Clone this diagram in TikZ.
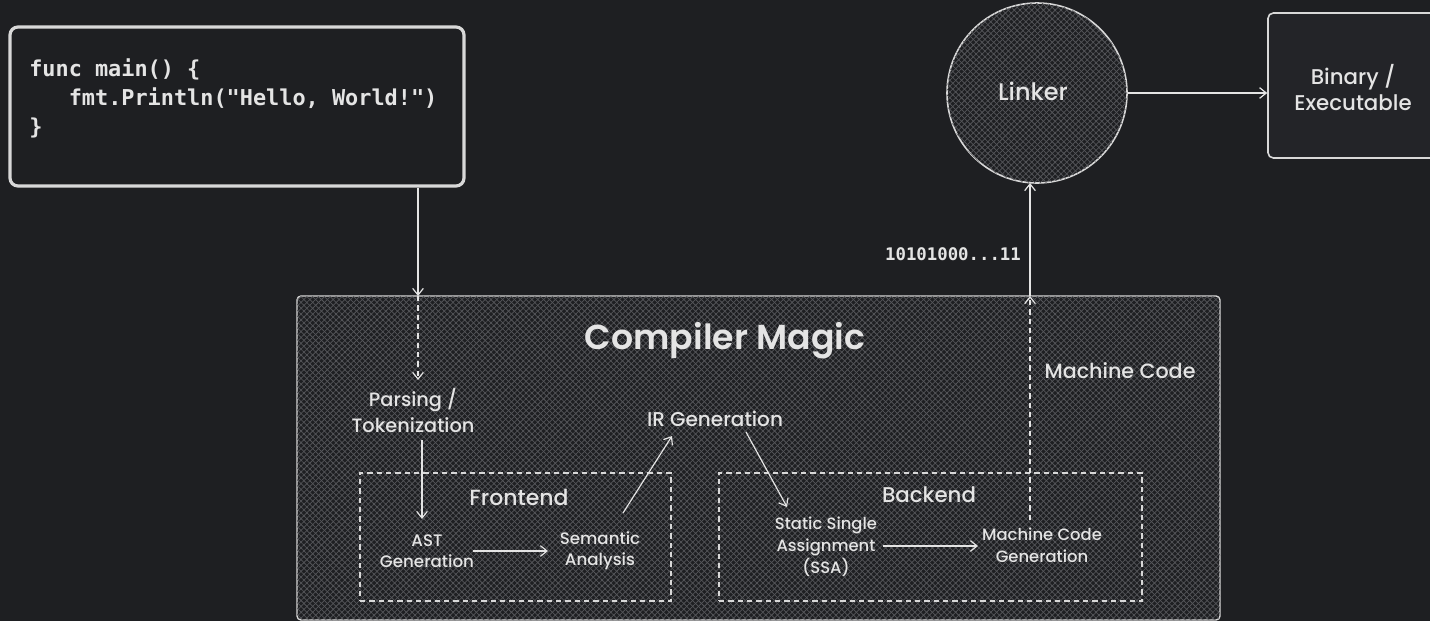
\documentclass[tikz,border=0pt]{standalone}
\usepackage{fontspec}
\setmainfont{Poppins}[UprightFont=* Medium, BoldFont=* SemiBold]
\newfontfamily\codefont{DejaVu Sans Mono}
\usetikzlibrary{arrows.meta,patterns.meta,fit}
\definecolor{bg}{HTML}{1E1F22}
\definecolor{ink}{HTML}{E4E4E4}
\definecolor{edge}{HTML}{D8D8D8}
\definecolor{hatch}{HTML}{55565A}
\definecolor{boxfill}{HTML}{232428}
\tikzset{
  arr/.style={draw=ink, line width=0.9pt, -{Straight Barb[length=5pt,width=8pt]}},
  dasharr/.style={arr, dash pattern=on 4pt off 3pt},
  lbl/.style={text=ink, align=center, inner sep=1pt, font=\fontsize{12}{15}\selectfont},
  hatched/.style={preaction={fill=bg},
    pattern={Lines[angle=45,distance=3.1pt,line width=0.55pt]}, pattern color=hatch,
    postaction={pattern={Lines[angle=-45,distance=3.1pt,line width=0.55pt]}, pattern color=hatch}},
  group/.style={draw=edge, line width=0.8pt, dash pattern=on 4pt off 3pt, inner sep=0pt},
}
\begin{document}
\begin{tikzpicture}[x=0.75pt,y=-0.75pt]
\useasboundingbox (0,0) rectangle (1430,621);
\clip (0,0) rectangle (1430,621);
\fill[bg] (0,0) rectangle (1430,621);

% source code box
\coordinate (c1) at (10,27);
\coordinate (c2) at (464,186);
\node[fit=(c1)(c2), draw=edge, line width=2.4pt, rounded corners=6pt, fill=bg, inner sep=0pt] (code) {};
\node[anchor=north west, text=ink, align=left, inner sep=0pt,
      font=\codefont\bfseries\fontsize{16.4}{22}\selectfont] (src) at (29,58)
  {func main() \{\\
   \ \ \ fmt.Println("Hello, World!")\\
   \}};

% compiler box
\coordinate (m1) at (297,296);
\coordinate (m2) at (1220,620);
\node[fit=(m1)(m2), draw=edge, line width=1pt, rounded corners=3pt, hatched, inner sep=0pt] (magic) {};
\node[text=ink, font=\bfseries\fontsize{26}{30}\selectfont, inner sep=0pt] (title) at (725,341) {Compiler Magic};
\node[text=ink, font=\fontsize{15.5}{18}\selectfont, inner sep=0pt] (mclabel) at (1120,371) {Machine Code};

% frontend / backend groups
\coordinate (f1) at (360,473);
\coordinate (f2) at (671,601);
\node[fit=(f1)(f2), group] (front) {};
\coordinate (b1) at (719,473);
\coordinate (b2) at (1142,601);
\node[fit=(b1)(b2), group] (back) {};
\node[text=ink, font=\fontsize{16.5}{18}\selectfont, inner sep=0pt] (frontlbl) at (519,497) {Frontend};
\node[text=ink, font=\fontsize{16}{18}\selectfont, inner sep=0pt] (backlbl) at (929,495) {Backend};

% stages
\node[lbl, font=\fontsize{14.5}{19.5}\selectfont] (parse) at (413,410) {Parsing /\\Tokenization};
\node[lbl, font=\fontsize{12.5}{16}\selectfont] (ast) at (427,551) {AST\\Generation};
\node[lbl, font=\fontsize{12.5}{16}\selectfont] (sem) at (600,551) {Semantic\\Analysis};
\node[lbl, font=\fontsize{15}{16}\selectfont] (ir) at (715,419) {IR Generation};
\node[lbl, font=\fontsize{12.3}{16.5}\selectfont] (ssa) at (826,547) {Static Single\\Assignment\\(SSA)};
\node[lbl, font=\fontsize{12.3}{16.5}\selectfont] (mcg) at (1042,545) {Machine Code\\Generation};

% linker and output
\node[circle, draw=edge, line width=1.2pt, hatched, minimum size=135pt, inner sep=0pt] (linker) at (1037,93) {};
\node[text=ink, font=\fontsize{18}{20}\selectfont] (linklbl) at (1033,91) {Linker};
\coordinate (o1) at (1268,13);
\coordinate (o2) at (1450,158);
\node[fit=(o1)(o2), draw=edge, line width=1.2pt, rounded corners=4pt, fill=boxfill, inner sep=0pt] (bin) {};
\node[lbl, font=\fontsize{16}{19.5}\selectfont] (binlbl) at (1353,88) {Binary /\\Executable};

\node[text=ink, font=\codefont\bfseries\fontsize{13}{16}\selectfont, inner sep=0pt] (bits) at (953,254) {10101000...11};

% connectors
\coordinate (inpt) at (418,296);
\coordinate (outpt) at (1030,296);
\coordinate (parsetop) at (418,380);
\coordinate (mcgtop) at (1030,520);
\coordinate (linkbot) at (1030,183);
\coordinate (astend) at (422,519);
\coordinate (parsebot) at (422,440);
\coordinate (astr) at (473,551);
\coordinate (semL) at (548,551);
\coordinate (semtop) at (623,513);
\coordinate (irL) at (672,436);
\coordinate (irR) at (746,432);
\coordinate (ssatop) at (787,507);
\coordinate (ssaR) at (883,546);
\coordinate (mcgL) at (978,546);
\draw[arr] (code.south -| inpt) -- (inpt);
\draw[dasharr] (inpt) -- (parsetop);
\draw[arr] (parsebot) -- (astend);
\draw[arr] (astr) -- (semL);
\draw[arr] (semtop) -- (irL);
\draw[arr] (irR) -- (ssatop);
\draw[arr] (ssaR) -- (mcgL);
\draw[dasharr] (mcgtop) -- (outpt);
\draw[arr] (outpt) -- (linkbot);
\draw[arr] (linker.east) -- (linker.east -| bin.west);
\end{tikzpicture}
\end{document}
